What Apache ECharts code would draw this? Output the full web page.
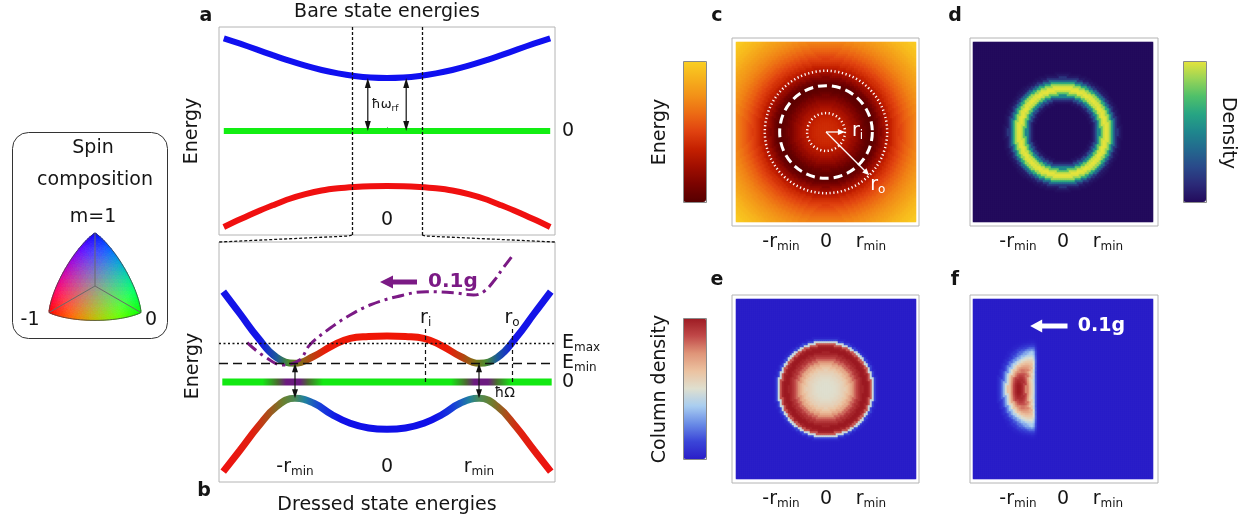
<!DOCTYPE html>
<html><head><meta charset="utf-8">
<script src="https://cdn.jsdelivr.net/npm/echarts@6/dist/echarts.min.js"></script>
<style>html,body{margin:0;padding:0;background:#fff}#c{width:1250px;height:521px}</style>
</head><body><div id="c"></div>
<script>
// ================= DATA =================
// panel a : bare state energies (x in units of r_min, y arbitrary energy units, 0 = m=0 level)
const aX     = [-8.5, -7.65, -6.8, -5.95, -5.1, -4.25, -3.4, -2.55, -1.7, -0.85, 0, 0.85, 1.7, 2.55, 3.4, 4.25, 5.1, 5.95, 6.8, 7.65, 8.5];
const aBlue  = [92.7, 87.3, 81.6, 75.8, 70.3, 65.3, 61, 57.6, 55.1, 53.5, 53, 53.5, 55.1, 57.6, 61, 65.3, 70.3, 75.8, 81.6, 87.3, 92.7];
const aGreen = [0, 0, 0, 0, 0, 0, 0, 0, 0, 0, 0, 0, 0, 0, 0, 0, 0, 0, 0, 0, 0];
const aRed   = [-96, -88.3, -81, -74.3, -68, -63.2, -59.5, -57.3, -56, -55.2, -55, -55.2, -56, -57.3, -59.5, -63.2, -68, -74.3, -81, -88.3, -96];
// panel b : dressed state energies
const bX     = [-1.78, -1.6, -1.4, -1.2, -1.0, -0.8, -0.6, -0.4, -0.2, 0, 0.2, 0.4, 0.6, 0.8, 1.0, 1.2, 1.4, 1.6, 1.78];
const bUpper = [90.3, 68.5, 44, 24.5, 18.7, 25.5, 36, 43.7, 45.5, 46, 45.5, 43.7, 36, 25.5, 18.7, 24.5, 44, 68.5, 90.3];
const bLower = [-89.7, -68.5, -44.5, -24.5, -16.3, -21, -32.5, -41.3, -46, -47.3, -46, -41.3, -32.5, -21, -16.3, -24.5, -44.5, -68.5, -89.7];
const bZeroX = [-1.79, 1.79];
const bZero  = [0, 0];
// tilted potential (0.1g)
const tiltX  = [-1.52, -1.34, -1.13, -0.95, -0.84, -0.62, -0.40, -0.185, 0.105, 0.43, 0.72, 0.94, 1.05, 1.17, 1.26, 1.355];
const tiltE  = [39.3, 26, 17, 22, 37, 53.7, 67, 77, 85.3, 90.3, 89.3, 87, 90.3, 102, 113.7, 125.3];
const eMax = 39, eMin = 19;
const rMin = 1, rI = 0.42, rO = 1.36;
const riTop = 55;
const xTickVals = [-1, 0, 1];
const tickNames = {'-1': '-r{s|min}', '0': '0', '1': 'r{s|min}'};
// radial profiles (sampled every 0.05 r_min, from r = 0 to 2.8 r_min), colour-scale positions 0..1
const profStep = 0.05;
const energyProf = [0.42,0.42,0.42,0.415,0.41,0.40,0.39,0.37,0.35,0.33,
  0.31,0.28,0.25,0.22,0.19,0.15,0.12,0.08,0.05,0.03,
  0.02,0.03,0.06,0.10,0.15,0.20,0.25,0.30,0.34,0.38,
  0.42,0.45,0.48,0.51,0.54,0.57,0.60,0.62,0.65,0.67,
  0.70,0.72,0.74,0.76,0.78,0.80,0.82,0.84,0.86,0.88,
  0.90,0.91,0.93,0.94,0.96,0.97,0.98];
const densityProf = [0,0,0,0,0,0,0,0,0,0,0,0,0,
  0.03,0.10,0.25,0.50,0.78,0.95,1.0,0.98,0.88,0.65,0.38,0.17,0.06,0.02,
  0,0,0,0,0,0,0,0,0,0,0,0,0,0,0,0,0,0,0,0,0,0,0,0,0,0,0,0,0,0];
const columnProf = [0.50,0.50,0.50,0.505,0.51,0.52,0.535,0.55,0.57,0.60,
  0.64,0.69,0.75,0.82,0.88,0.93,0.97,1.0,1.0,0.97,
  0.85,0.45,0.12,0.02,
  0,0,0,0,0,0,0,0,0,0,0,0,0,0,0,0,0,0,0,0,0,0,0,0,0,0,0,0,0,0,0,0,0];
// tilted column density: radial profile (0..1.5), profile along |y| (0..1.1), right-edge cut-off along x
const tiltRv    = [0.45,0.45,0.45,0.45,0.45,0.45,0.45,0.45,0.45,0.45,0.45,
  0.47,0.50,0.53,0.57,0.65,0.78,0.90,0.97,1.0,1.0,0.96,0.88,0.76,0.62,0.47,0.32,0.18,0.08,0.03,0];
const tiltYv    = [1.0,1.0,0.99,0.97,0.95,0.93,0.90,0.86,0.80,0.75,0.70,0.65,0.60,0.55,0.50,0.45,0.40,0.33,0.25,0.17,0.10,0.05,0.02];
const tiltCutX  = [-0.70, -0.65, -0.60, -0.55, -0.50];
const tiltCutV  = [1.0, 0.85, 0.35, 0.05, 0];
// colour maps
const energyColors  = ['#560000','#7a0300','#a00e00','#c42000','#e04210','#ec6a14','#f29018','#f6b01c','#fad022'];
const densityColors = ['#230b5c','#2b2a78','#2a4a8a','#23698e','#1f878d','#27a583','#4fc06a','#99d457','#e6e43c'];
const columnColors  = ['#2a1ec8','#3b46d8','#6a8ce6','#a8cdf0','#dfdfcf','#ebc2a0','#df9478','#c04848','#9c1a22'];

// ================= BUILD =================
const FONT = 'DejaVu Sans', TXT = '#151515', FS = 19, SFS = 12;
const NCELL = 90, HALF = 2;
const cats = Array.from({length: NCELL}, (_, i) => String(i));
const cellPos = i => -HALF + (i + 0.5) * 2 * HALF / NCELL;
const pick = (arr, k) => (k >= 0 && k < arr.length) ? arr[k] : null;
function radialCells(prof) {
  const out = [];
  for (let i = 0; i < NCELL; i++) for (let j = 0; j < NCELL; j++) {
    const k = Math.round(Math.hypot(cellPos(i), cellPos(j)) / profStep);
    out.push([i, j, prof[Math.min(k, prof.length - 1)]]);
  }
  return out;
}
function tiltCells() {
  const out = [];
  for (let i = 0; i < NCELL; i++) {
    const u = cellPos(i);
    const kc = Math.round((u - tiltCutX[0]) / profStep);
    const cut = kc < 0 ? 1 : (kc < tiltCutV.length ? tiltCutV[kc] : 0);
    for (let j = 0; j < NCELL; j++) {
      const v = cellPos(j);
      const fr = pick(tiltRv, Math.round(Math.hypot(u, v) / profStep)) || 0;
      const fy = pick(tiltYv, Math.round(Math.abs(v) / profStep)) || 0;
      out.push([i, j, u < 0 ? fr * fy * cut : 0]);
    }
  }
  return out;
}
const zip = (xs, ys) => xs.map((x, i) => [x, ys[i]]);
const subRich = {s: {fontSize: SFS, lineHeight: 12, verticalAlign: 'bottom', fontFamily: FONT, color: TXT}};

const frameBorder = '#b4b4b4';
const grids = [
  {left: 219, top: 27, width: 336, height: 208},   // 0 a
  {left: 219, top: 242, width: 336, height: 240},  // 1 b
  {left: 732, top: 38, width: 187, height: 188},   // 2 c frame
  {left: 736, top: 42, width: 180, height: 180},   // 3 c heat
  {left: 970, top: 38, width: 188, height: 188},   // 4 d frame
  {left: 973, top: 42, width: 180, height: 180},   // 5 d heat
  {left: 732, top: 295, width: 187, height: 188},  // 6 e frame
  {left: 736, top: 299, width: 180, height: 180},  // 7 e heat
  {left: 970, top: 295, width: 188, height: 188},  // 8 f frame
  {left: 973, top: 299, width: 180, height: 180}   // 9 f heat
].map((g, i) => Object.assign(g, {containLabel: false, show: [0,1,2,4,6,8].includes(i), borderColor: frameBorder, borderWidth: 1, backgroundColor: 'transparent'}));

function frameX(gi, min, max) {
  return {type: 'value', gridIndex: gi, min, max, splitLine: {show: false}, axisLine: {show: false},
    axisTick: {show: true, inside: true, length: 3, customValues: xTickVals, lineStyle: {color: '#999'}},
    axisLabel: {show: true, customValues: xTickVals, margin: 5, fontSize: FS, lineHeight: 22, fontFamily: FONT, color: TXT, hideOverlap: false,
      formatter: v => tickNames[String(Math.round(v))], rich: subRich}};
}
function frameY(gi, min, max) {
  return {type: 'value', gridIndex: gi, min, max, splitLine: {show: false}, axisLine: {show: false},
    axisTick: {show: true, inside: true, length: 3, customValues: xTickVals, lineStyle: {color: '#999'}},
    axisLabel: {show: false}};
}
const catAx = gi => ({type: 'category', gridIndex: gi, data: cats, show: false, boundaryGap: true});

const xAxis = [
  {type: 'value', gridIndex: 0, min: -8.75, max: 8.75, splitLine: {show: false}, axisLine: {show: false},
    axisTick: {show: true, inside: true, length: 4, customValues: xTickVals, lineStyle: {color: '#999'}},
    axisLabel: {show: true, inside: true, customValues: [0], margin: 5, fontSize: FS, fontFamily: FONT, color: TXT}},
  {type: 'value', gridIndex: 1, min: -1.826, max: 1.826, splitLine: {show: false}, axisLine: {show: false},
    axisTick: {show: false},
    axisLabel: {show: true, inside: true, customValues: xTickVals, margin: 4, fontSize: FS, lineHeight: 22, fontFamily: FONT, color: TXT, hideOverlap: false,
      formatter: v => tickNames[String(Math.round(v))], rich: subRich}},
  frameX(2, -2.089, 2.067), catAx(3),
  frameX(4, -2.067, 2.111), catAx(5),
  frameX(6, -2.089, 2.067), catAx(7),
  frameX(8, -2.067, 2.111), catAx(9)
];
const yAxis = [
  {type: 'value', gridIndex: 0, min: -104, max: 104, splitLine: {show: false}, axisLine: {show: false},
    axisTick: {show: true, inside: true, length: 3, customValues: [0], lineStyle: {color: '#999'}}, axisLabel: {show: false}},
  {type: 'value', gridIndex: 1, min: -100, max: 140, splitLine: {show: false}, axisLine: {show: false},
    axisTick: {show: true, inside: true, length: 3, customValues: [0], lineStyle: {color: '#999'}}, axisLabel: {show: false}},
  frameY(2, -2.089, 2.089), catAx(3),
  frameY(4, -2.089, 2.089), catAx(5),
  frameY(6, -2.089, 2.089), catAx(7),
  frameY(8, -2.089, 2.089), catAx(9),
  {type: 'value', gridIndex: 0, position: 'right', min: -104, max: 104, splitLine: {show: false}, axisLine: {show: false}, axisTick: {show: false},
    axisLabel: {show: true, customValues: [0], margin: 7, fontSize: FS, fontFamily: FONT, color: TXT}}
];

function grad(stops) {
  return new echarts.graphic.LinearGradient(0, 0, 1, 0, stops.map(s => ({offset: s[0], color: s[1]})));
}
const upperGrad = grad([[0,'#1414e8'],[0.12,'#1414e8'],[0.17,'#1a5a9a'],[0.205,'#4a8a30'],[0.235,'#7a7218'],[0.275,'#b84210'],[0.32,'#ec1a08'],
  [0.5,'#f01505'],[0.68,'#ec1a08'],[0.725,'#b84210'],[0.765,'#7a7218'],[0.795,'#4a8a30'],[0.83,'#1a5a9a'],[0.88,'#1414e8'],[1,'#1414e8']]);
const lowerGrad = grad([[0,'#f01010'],[0.1,'#e02010'],[0.14,'#b04a18'],[0.19,'#6a8030'],[0.225,'#4a8a58'],[0.255,'#2080a0'],[0.3,'#1840d8'],[0.36,'#1010e8'],
  [0.64,'#1010e8'],[0.7,'#1840d8'],[0.745,'#2080a0'],[0.775,'#4a8a58'],[0.81,'#6a8030'],[0.86,'#b04a18'],[0.9,'#e02010'],[1,'#f01010']]);
const zeroGrad = grad([[0,'#12e812'],[0.13,'#12e812'],[0.175,'#4a6a30'],[0.2,'#6c1a80'],[0.24,'#6c1a80'],[0.265,'#4a6a30'],[0.31,'#12e812'],
  [0.69,'#12e812'],[0.735,'#4a6a30'],[0.76,'#6c1a80'],[0.8,'#6c1a80'],[0.825,'#4a6a30'],[0.87,'#12e812'],[1,'#12e812']]);

const lineBase = {type: 'line', symbol: 'none', silent: true, animation: false};
const series = [
  Object.assign({}, lineBase, {xAxisIndex: 0, yAxisIndex: 0, smooth: 0.3, data: zip(aX, aBlue), lineStyle: {color: '#1010f0', width: 6}}),
  Object.assign({}, lineBase, {xAxisIndex: 0, yAxisIndex: 0, data: zip(aX, aGreen), lineStyle: {color: '#12ee12', width: 6}}),
  Object.assign({}, lineBase, {xAxisIndex: 0, yAxisIndex: 0, smooth: 0.3, data: zip(aX, aRed), lineStyle: {color: '#f01010', width: 6}}),
  Object.assign({}, lineBase, {xAxisIndex: 0, yAxisIndex: 0, data: [],
    markLine: {silent: true, symbol: 'none', label: {show: false}, lineStyle: {color: '#111', type: [3, 2], width: 1.3},
      data: [{xAxis: -1.826}, {xAxis: 1.826}]}}),
  Object.assign({}, lineBase, {xAxisIndex: 1, yAxisIndex: 1, data: zip(bZeroX, bZero), lineStyle: {color: zeroGrad, width: 7}}),
  Object.assign({}, lineBase, {xAxisIndex: 1, yAxisIndex: 1, smooth: 0.45, data: zip(bX, bUpper), lineStyle: {color: upperGrad, width: 7}}),
  Object.assign({}, lineBase, {xAxisIndex: 1, yAxisIndex: 1, smooth: 0.45, data: zip(bX, bLower), lineStyle: {color: lowerGrad, width: 7}}),
  Object.assign({}, lineBase, {xAxisIndex: 1, yAxisIndex: 1, smooth: 0.4, data: zip(tiltX, tiltE), z: 4,
    lineStyle: {color: '#7b1a85', width: 3, type: [12, 5, 3, 5]}}),
  Object.assign({}, lineBase, {xAxisIndex: 1, yAxisIndex: 1, data: [],
    markLine: {silent: true, symbol: 'none', label: {show: false},
      data: [
        {yAxis: eMax, lineStyle: {color: '#111', type: [2, 2.5], width: 1.3}},
        {yAxis: eMin, lineStyle: {color: '#111', type: [9, 5], width: 1.3}},
        [{coord: [rI, 0], lineStyle: {color: '#111', type: [4, 3], width: 1.2}}, {coord: [rI, riTop]}],
        [{coord: [rO, 0], lineStyle: {color: '#111', type: [4, 3], width: 1.2}}, {coord: [rO, riTop]}]
      ]}}),
  {type: 'heatmap', xAxisIndex: 3, yAxisIndex: 3, data: radialCells(energyProf), progressive: 0, silent: true, emphasis: {disabled: true}},
  {type: 'heatmap', xAxisIndex: 5, yAxisIndex: 5, data: radialCells(densityProf), progressive: 0, silent: true, emphasis: {disabled: true}},
  {type: 'heatmap', xAxisIndex: 7, yAxisIndex: 7, data: radialCells(columnProf), progressive: 0, silent: true, emphasis: {disabled: true}},
  {type: 'heatmap', xAxisIndex: 9, yAxisIndex: 9, data: tiltCells(), progressive: 0, silent: true, emphasis: {disabled: true}}
];
const vmBase = {type: 'continuous', min: 0, max: 1, calculable: false, orient: 'vertical', itemWidth: 23, itemHeight: 141,
  padding: 0, text: null, hoverLink: false, borderWidth: 0};
const visualMap = [
  Object.assign({}, vmBase, {seriesIndex: 9, left: 683, top: 61, inRange: {color: energyColors}}),
  Object.assign({}, vmBase, {seriesIndex: 10, left: 1183, top: 61, inRange: {color: densityColors}}),
  Object.assign({}, vmBase, {seriesIndex: [11, 12], left: 683, top: 318, inRange: {color: columnColors}})
];

const chart = echarts.init(document.getElementById('c'));
chart.setOption({animation: false, backgroundColor: '#fff', textStyle: {fontFamily: FONT},
  grid: grids, xAxis, yAxis, series, visualMap});

// ================= ANNOTATIONS =================
const P = (gi, x, y) => chart.convertToPixel({gridIndex: gi}, [x, y]);
const G = [];
function txt(x, y, text, o) {
  o = o || {};
  const sub = o.sub || SFS;
  G.push({type: 'text', x, y, rotation: o.rot || 0, z: 100, silent: true,
    style: {text, fontFamily: FONT, fontSize: o.size || FS, fontWeight: o.bold ? 'bold' : 'normal', fill: o.color || TXT,
      align: o.align || 'center', verticalAlign: 'middle', lineHeight: o.lh || 22,
      rich: {s: {fontSize: sub, lineHeight: sub, verticalAlign: 'bottom', fontFamily: FONT, fill: o.color || TXT}}}});
}
function arrow(p1, p2, o) {
  const dx = p2[0] - p1[0], dy = p2[1] - p1[1], L = Math.hypot(dx, dy), ux = dx / L, uy = dy / L;
  const hl = o.hl, hw = o.hw;
  const s = o.both ? [p1[0] + ux * hl * 0.7, p1[1] + uy * hl * 0.7] : p1;
  const e = [p2[0] - ux * hl * 0.7, p2[1] - uy * hl * 0.7];
  G.push({type: 'line', z: 100, silent: true, shape: {x1: s[0], y1: s[1], x2: e[0], y2: e[1]}, style: {stroke: o.color, lineWidth: o.w}});
  const head = (t, vx, vy) => ({type: 'polygon', z: 100, silent: true,
    shape: {points: [t, [t[0] - vx * hl - vy * hw / 2, t[1] - vy * hl + vx * hw / 2], [t[0] - vx * hl + vy * hw / 2, t[1] - vy * hl - vx * hw / 2]]},
    style: {fill: o.color}});
  G.push(head(p2, ux, uy));
  if (o.both) G.push(head(p1, -ux, -uy));
}
const at = (xs, ys, x) => ys[xs.indexOf(x)];

// titles / labels
txt(387, 12, 'Bare state energies');
txt(206, 16, 'a', {bold: true});
txt(387, 505, 'Dressed state energies');
txt(204, 491, 'b', {bold: true});
txt(192, 131, 'Energy', {rot: Math.PI / 2});
txt(193, 366, 'Energy', {rot: Math.PI / 2});
txt(717, 16, 'c', {bold: true});
txt(955, 16, 'd', {bold: true});
txt(717, 280, 'e', {bold: true});
txt(955, 280, 'f', {bold: true});
txt(660, 132, 'Energy', {rot: Math.PI / 2});
txt(1228, 133, 'Density', {rot: -Math.PI / 2});
txt(660, 389, 'Column density', {rot: Math.PI / 2});

// panel a arrows (hbar omega_rf)
[-rMin, rMin].forEach(x => arrow(P(0, x, at(aX, aBlue, 0)), P(0, x, 0), {color: '#111', w: 1.2, hl: 10, hw: 6, both: true}));
{ const p = P(0, 0, 26); txt(p[0] - 2, p[1], 'ħω{s|rf}', {size: 13, sub: 9, lh: 16}); }
// connectors from the panel-a zoom window to panel b
[-1.826, 1.826].forEach(x => {
  const top = P(0, x, -104), corner = P(1, x, 140);
  G.push({type: 'polyline', z: 100, silent: true, shape: {points: [top, [top[0] + Math.sign(x) * 3, top[1] + 1], corner]},
    style: {stroke: '#111', lineWidth: 1.3, lineDash: [3, 2], fill: null}});
});
// panel b right-hand labels
[[eMax, 'E{s|max}'], [eMin, 'E{s|min}'], [0, '0']].forEach(([v, t]) => {
  const p = P(1, 1.826, v); txt(p[0] + 7, p[1], t, {align: 'left'});
});
// panel b arrows (hbar Omega)
[-rMin, rMin].forEach(x => arrow(P(1, x, at(bX, bUpper, x)), P(1, x, at(bX, bLower, x)), {color: '#111', w: 1.2, hl: 9, hw: 6, both: true}));
{ const p = P(1, 1.28, -11); txt(p[0], p[1], 'ħΩ', {size: 14}); }
{ const p = P(1, rI, 64); txt(p[0], p[1], 'r{s|i}'); }
{ const p = P(1, rO, 64); txt(p[0], p[1], 'r{s|o}'); }
arrow(P(1, 0.326, 100), P(1, -0.076, 100), {color: '#7b1a85', w: 5, hl: 13, hw: 13});
{ const p = P(1, 0.446, 100); txt(p[0], p[1], '0.1g', {bold: true, size: 20, color: '#7b1a85', align: 'left'}); }

// panel c circles and radii
{
  const c0 = P(2, 0, 0);
  const rad = r => P(2, r, 0)[0] - c0[0];
  G.push({type: 'circle', z: 100, silent: true, shape: {cx: c0[0], cy: c0[1], r: rad(rI)}, style: {fill: null, stroke: '#fff', lineWidth: 2.5, lineDash: [1.2, 2.6]}});
  G.push({type: 'circle', z: 100, silent: true, shape: {cx: c0[0], cy: c0[1], r: rad(rO)}, style: {fill: null, stroke: '#fff', lineWidth: 2.5, lineDash: [1.2, 2.6]}});
  G.push({type: 'circle', z: 100, silent: true, shape: {cx: c0[0], cy: c0[1], r: rad(rMin * 1.03)}, style: {fill: null, stroke: '#fff', lineWidth: 3, lineDash: [9, 5]}});
  arrow(c0, P(2, rI, 0), {color: '#fff', w: 1.3, hl: 7, hw: 6});
  const ang = -Math.PI / 4;
  arrow(c0, P(2, rO * Math.cos(ang), rO * Math.sin(ang)), {color: '#fff', w: 1.3, hl: 7, hw: 6});
  const li = P(2, rI + 0.28, 0.03); txt(li[0], li[1], 'r{s|i}', {color: '#fff'});
  const lo = P(2, 1.15, -1.18); txt(lo[0], lo[1], 'r{s|o}', {color: '#fff'});
}
// panel f gravity arrow
arrow(P(8, 0.1, 1.4), P(8, -0.73, 1.4), {color: '#fff', w: 5, hl: 12, hw: 13});
{ const p = P(8, 0.33, 1.4); txt(p[0], p[1], '0.1g', {bold: true, size: 19, color: '#fff', align: 'left'}); }

// colour bar outlines
[[683, 61, 23, 141], [1183, 61, 23, 141], [683, 318, 23, 141]].forEach(b => G.push({type: 'rect', z: 100, silent: true,
  shape: {x: b[0] + 0.5, y: b[1] + 0.5, width: b[2], height: b[3]}, style: {fill: null, stroke: '#8a8a8a', lineWidth: 1}}));

// spin composition key
G.push({type: 'rect', z: 90, silent: true, shape: {x: 12.5, y: 132.5, width: 155, height: 206, r: 16}, style: {fill: '#fff', stroke: '#333', lineWidth: 1}});
txt(93, 148, 'Spin');
txt(95, 180, 'composition');
txt(93, 217, 'm=1');
txt(30, 320, '-1');
txt(151, 320, '0');
{
  const N = 28, S = 65, cx = 95, cy = 286, q = 1.6;
  const norm = (a, b, c) => Math.pow(Math.pow(a, q) + Math.pow(b, q) + Math.pow(c, q), 1 / q);
  const proj = (a, b, c) => {
    a = Math.max(0, a); b = Math.max(0, b); c = Math.max(0, c);
    const n = norm(a, b, c);
    const p = [a / n, b / n, c / n];
    return [cx + S * (p[1] - p[0]) / Math.SQRT2, cy - S * (2 * p[2] - p[0] - p[1]) / Math.sqrt(6)];
  };
  const col = (a, b, c) => {
    a = Math.max(0, a); b = Math.max(0, b); c = Math.max(0, c);
    const n = norm(a, b, c);
    return 'rgb(' + [a, b, c].map(v => Math.min(255, Math.round(v / n * 255 * 1.15))).join(',') + ')';
  };
  const addTri = (v) => {
    const a = (v[0][0] + v[1][0] + v[2][0]) / 3, b = (v[0][1] + v[1][1] + v[2][1]) / 3;
    const pts = v.map(w => proj(w[0], w[1], 1 - w[0] - w[1]));
    const c = col(a, b, 1 - a - b);
    G.push({type: 'polygon', z: 95, silent: true, shape: {points: pts}, style: {fill: c, stroke: c, lineWidth: 0.8}});
  };
  for (let i = 0; i < N; i++) for (let j = 0; i + j < N; j++) {
    addTri([[i / N, j / N], [(i + 1) / N, j / N], [i / N, (j + 1) / N]]);
    if (i + j < N - 1) addTri([[(i + 1) / N, j / N], [(i + 1) / N, (j + 1) / N], [i / N, (j + 1) / N]]);
  }
  [proj(1, 0, 0), proj(0, 1, 0), proj(0, 0, 1)].forEach(v => G.push({type: 'line', z: 96, silent: true,
    shape: {x1: cx, y1: cy, x2: v[0], y2: v[1]}, style: {stroke: '#6a6a6a', lineWidth: 1}}));
  const edge = [];
  for (let k = 0; k <= 40; k++) edge.push(proj(1 - k / 40, k / 40, 0));
  for (let k = 1; k <= 40; k++) edge.push(proj(0, 1 - k / 40, k / 40));
  for (let k = 1; k < 40; k++) edge.push(proj(k / 40, 0, 1 - k / 40));
  G.push({type: 'polygon', z: 96, silent: true, shape: {points: edge}, style: {fill: null, stroke: '#444', lineWidth: 0.8}});
}
chart.setOption({graphic: {elements: G}});
</script></body></html>
